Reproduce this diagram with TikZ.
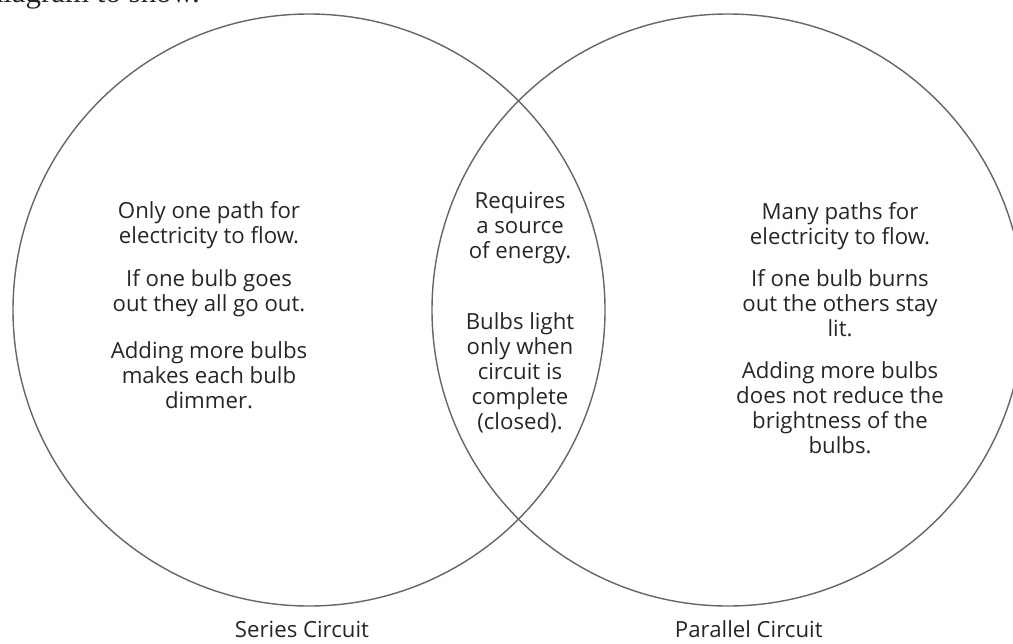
\documentclass[tikz,border=0pt]{standalone}
\usepackage{fontspec}
\setmainfont{Open Sans}
\newfontfamily\pageserif{Liberation Serif}

\begin{document}
\begin{tikzpicture}[black!80,
	ring/.style={draw=black!60, line width=1pt},
	facts/.style={align=center, text=black!85,
		font=\fontsize{15.8}{17.8}\selectfont},
	caption/.style={text=black!85, font=\fontsize{15.8}{17.8}\selectfont}]
	
	% Page frame
	\useasboundingbox (0,0) rectangle (25.325,-16.075);
	\clip (0,0) rectangle (25.325,-16.075);
	
	% Cut-off line of the page text
	\node[anchor=base east, inner sep=0pt, text=black!85,
	font=\pageserif\fontsize{22}{26}\selectfont] (pagetext) at (5.0,-0.07) {diagram to show.};
	
	% Circles
	\coordinate (seriesc) at (7.725,-7.75);
	\coordinate (parallelc) at (18.2,-7.75);
	\draw[ring] (seriesc) circle (7.4);
	\draw[ring] (parallelc) circle (7.4);
	
	% Series only
	\node[facts] (series) at (5.225,-7.64)
	{Only one path for\\electricity to flow.\\[12.8pt]
		If one bulb goes\\out they all go out.\\[15.6pt]
		Adding more bulbs\\makes each bulb\\dimmer.};
	
	% Both
	\node[facts] (both) at (13.0,-7.81)
	{Requires\\a source\\of energy.\\[33pt]
		Bulbs light\\only when\\circuit is\\complete\\(closed).};
	
	% Parallel only
	\node[facts] (parallel) at (21.0,-8.2)
	{Many paths for\\electricity to flow.\\[12pt]
		If one bulb burns\\out the others stay\\lit.\\[12pt]
		Adding more bulbs\\does not reduce the\\brightness of the\\bulbs.};
	
	% Captions
	\node[caption] (serieslabel) at (7.55,-15.74) {Series Circuit};
	\node[caption] (parallellabel) at (18.72,-15.74) {Parallel Circuit};
	
\end{tikzpicture}
\end{document}
